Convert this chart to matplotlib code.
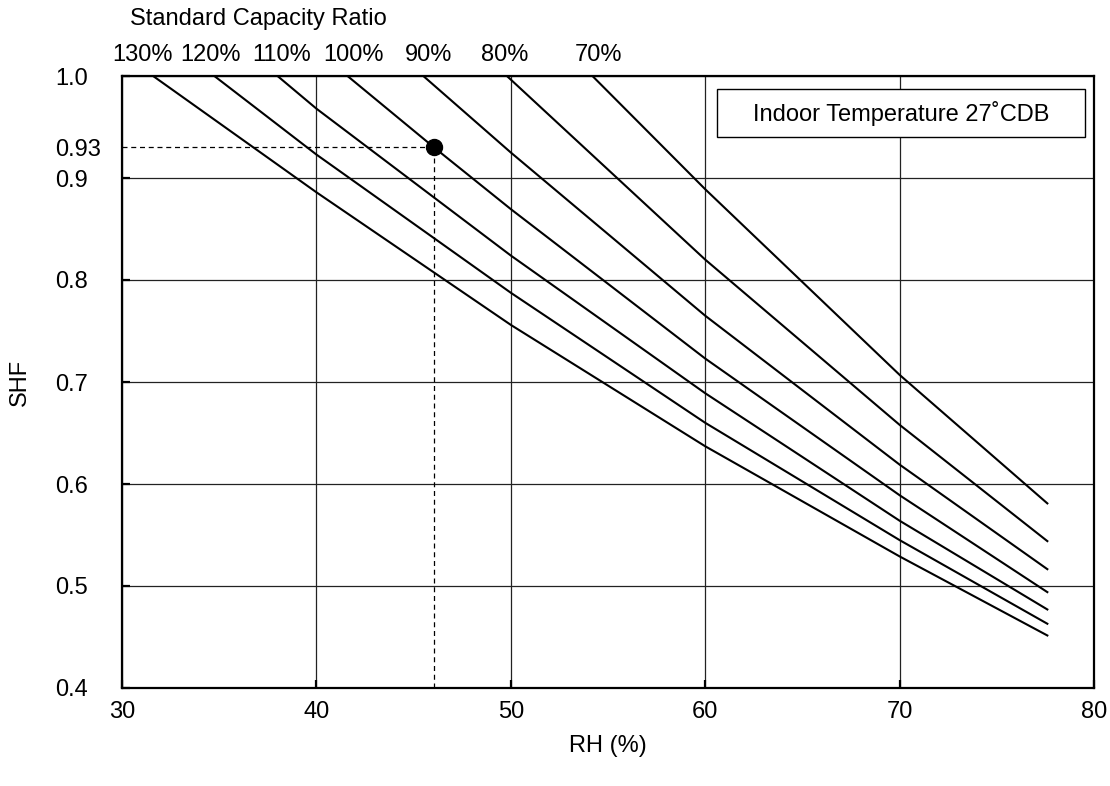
import matplotlib
matplotlib.use('Agg')
import matplotlib.pyplot as plt
from matplotlib.patches import Rectangle
from matplotlib.transforms import blended_transform_factory

plt.rcParams['font.family'] = ['Liberation Sans', 'DejaVu Sans']

# ---- data ----
ratio_labels = ['130%', '120%', '110%', '100%', '90%', '80%', '70%']
ratio_label_rh = [31.08, 34.55, 38.2, 41.9, 45.77, 49.68, 54.5]
rh_130 = [31.6, 40, 50, 60, 70, 77.6]
shf_130 = [1.0, 0.886, 0.756, 0.637, 0.529, 0.4515]
rh_120 = [34.75, 40, 50, 60, 70, 77.6]
shf_120 = [1.0, 0.923, 0.7875, 0.660, 0.545, 0.463]
rh_110 = [38.0, 40, 50, 60, 70, 77.6]
shf_110 = [1.0, 0.968, 0.824, 0.689, 0.564, 0.477]
rh_100 = [41.6, 46.05, 50, 60, 70, 77.6]
shf_100 = [1.0, 0.93, 0.8695, 0.723, 0.589, 0.494]
rh_90 = [45.5, 50, 60, 70, 77.6]
shf_90 = [1.0, 0.925, 0.765, 0.619, 0.5165]
rh_80 = [49.8, 60, 70, 77.6]
shf_80 = [1.0, 0.820, 0.658, 0.544]
rh_70 = [54.2, 60, 70, 77.6]
shf_70 = [1.0, 0.889, 0.707, 0.581]

curves_rh = [rh_130, rh_120, rh_110, rh_100, rh_90, rh_80, rh_70]
curves_shf = [shf_130, shf_120, shf_110, shf_100, shf_90, shf_80, shf_70]

point_rh = 46.05
point_shf = 0.93

x_ticks = [30, 40, 50, 60, 70, 80]
y_ticks = [0.4, 0.5, 0.6, 0.7, 0.8, 0.9, 1.0]
y_tick_labels = ['0.4', '0.5', '0.6', '0.7', '0.8', '0.9', '1.0']
y_extra_tick = [0.93]
y_extra_label = ['0.93']

FS = 17

fig = plt.figure(figsize=(11.10, 7.86), dpi=100)
ax = fig.add_axes([122/1110, 1 - 688/786, 972/1110, 612/786])

for xs, ys in zip(curves_rh, curves_shf):
    ax.plot(xs, ys, color='black', lw=1.5, solid_joinstyle='round', zorder=3)

# reference point with dashed guides
ax.plot([x_ticks[0], point_rh], [point_shf, point_shf], color='black', lw=0.9,
        ls=(0, (4, 3)), zorder=2)
ax.plot([point_rh, point_rh], [y_ticks[0], point_shf], color='black', lw=0.9,
        ls=(0, (4, 3)), zorder=2)
ax.plot([point_rh], [point_shf], 'o', color='black', markersize=11.5, zorder=4)

ax.set_xlim(x_ticks[0], x_ticks[-1])
ax.set_ylim(y_ticks[0], y_ticks[-1])
ax.set_xticks(x_ticks)
ax.set_xticklabels([str(v) for v in x_ticks], fontsize=FS)
ax.set_yticks(y_ticks)
ax.set_yticklabels(y_tick_labels, fontsize=FS)
ax.set_yticks(y_extra_tick, minor=True)
ax.set_yticklabels(y_extra_label, minor=True, fontsize=FS)

ax.grid(True, which='major', color='#222222', lw=0.9)
ax.tick_params(axis='both', which='major', direction='in', length=6, width=1.6)
ax.tick_params(axis='y', which='both', pad=48)
ax.tick_params(axis='y', which='minor', length=0)
ax.tick_params(axis='x', which='major', pad=9)
for lab in ax.get_yticklabels(which='both'):
    lab.set_horizontalalignment('left')
for s in ax.spines.values():
    s.set_linewidth(1.6)
    s.set_zorder(5)

ax.set_xlabel('RH (%)', fontsize=FS)
ax.xaxis.set_label_coords(0.5, (688 - 746) / 612)
ax.xaxis.label.set_verticalalignment('center')
ax.set_ylabel('SHF', fontsize=FS)
ax.yaxis.set_label_coords((20 - 122) / 972, 0.5)
ax.yaxis.label.set_verticalalignment('center')

# curve labels above the plot
trans = blended_transform_factory(ax.transData, ax.transAxes)
for lab, xl in zip(ratio_labels, ratio_label_rh):
    ax.text(xl, (688 - 55) / 612, lab, transform=trans, ha='center',
            va='center', fontsize=FS, clip_on=False)
ax.text((130 - 122) / 972, (688 - 19) / 612, 'Standard Capacity Ratio',
        transform=ax.transAxes, ha='left', va='center', fontsize=FS)

# condition box
bx0, bx1 = (717 - 122) / 972, (1085 - 122) / 972
by0, by1 = (688 - 137) / 612, (688 - 89) / 612
ax.add_patch(Rectangle((bx0, by0), bx1 - bx0, by1 - by0, transform=ax.transAxes,
                       facecolor='white', edgecolor='black', lw=1.0, zorder=6))
ax.text((bx0 + bx1) / 2, (by0 + by1) / 2, 'Indoor Temperature 27˚CDB',
        transform=ax.transAxes, ha='center', va='center', fontsize=FS, zorder=7)

fig.savefig('out.png', dpi=100, facecolor='white')
